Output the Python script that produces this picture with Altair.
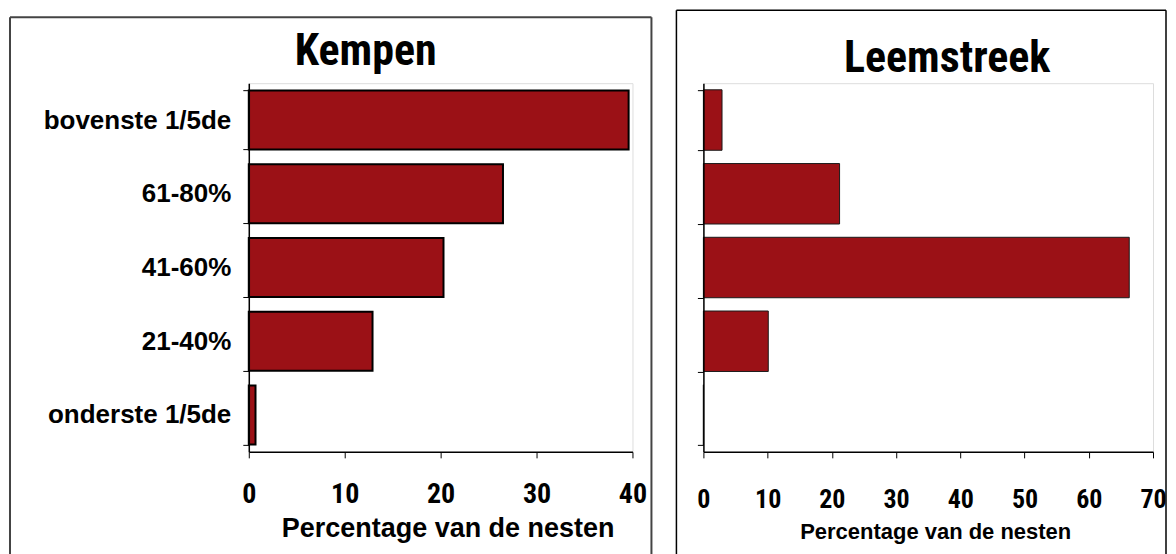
import altair as alt
import pandas as pd

categories = ["bovenste 1/5de", "61-80%", "41-60%", "21-40%", "onderste 1/5de"]
kempen = [39.6, 26.5, 20.3, 12.9, 0.7]
leemstreek = [2.9, 21.2, 66.3, 10.1, 0.0]
kempen_ticks = [0, 10, 20, 30, 40]
leem_ticks = [0, 10, 20, 30, 40, 50, 60, 70]
x_title = "Percentage van de nesten"
titles = ["Kempen", "Leemstreek"]

BAR = "#9b1116"
COND = "'Roboto Condensed', 'Liberation Sans', Arial, sans-serif"
SANS = "'Liberation Sans', Arial, sans-serif"

df_k = pd.DataFrame({"cat": categories, "val": kempen})
df_l = pd.DataFrame({"cat": categories, "val": leemstreek})
one = alt.Data(values=[{"a": 1}])


def frame(color, width, x0, x1, y0, y1):
    base = alt.Chart(one)
    left = base.mark_rule(color=color, strokeWidth=width, clip=False).encode(
        x=alt.value(x0), y=alt.value(y0), y2=alt.value(y1))
    right = base.mark_rule(color=color, strokeWidth=width, clip=False).encode(
        x=alt.value(x1), y=alt.value(y0), y2=alt.value(y1))
    top = base.mark_rule(color=color, strokeWidth=width, clip=False).encode(
        x=alt.value(x0), x2=alt.value(x1), y=alt.value(y0))
    return [left, right, top]


def panel_title(text, cx, baseline_y):
    return alt.Chart(one).mark_text(
        font=COND, fontSize=44, fontWeight="bold", color="black",
        align="center", baseline="alphabetic", clip=False,
    ).encode(x=alt.value(cx), y=alt.value(baseline_y), text=alt.value(text))


# ---------- left panel: Kempen ----------
LW, LH = 384, 369
k_bars = alt.Chart(df_k).mark_bar(color=BAR, stroke="black", strokeWidth=2).encode(
    y=alt.Y("cat:N", sort=categories,
            scale=alt.Scale(paddingInner=0.2, paddingOuter=0.1),
            axis=alt.Axis(title=None, tickBand="extent", tickSize=6, tickColor="black",
                          domainColor="black", domainWidth=1.5, labelFont=SANS,
                          labelFontSize=26, labelFontWeight="bold", labelColor="black",
                          labelPadding=12, labelLimit=0, zindex=1)),
    x=alt.X("val:Q", scale=alt.Scale(domain=[0, 40], nice=False),
            axis=alt.Axis(values=kempen_ticks, title=x_title, tickSize=6, tickColor="black",
                          domainColor="black", domainWidth=1.5, grid=False,
                          labelFont=COND, labelFontSize=28, labelFontWeight="bold",
                          labelColor="black", labelPadding=23, labelFlush=False,
                          titleFont=SANS, titleFontSize=27, titleFontWeight="bold",
                          titleColor="black", titlePadding=7, titleX=199, zindex=1)),
)
left = alt.layer(*frame("#444444", 2, -239, 403, -66, 478),
                 panel_title(titles[0], 117, -18), k_bars).properties(width=LW, height=LH)

# ---------- right panel: Leemstreek ----------
RW, RH = 450, 369
l_bars = alt.Chart(df_l).mark_bar(color=BAR, stroke="#1a1a1a", strokeWidth=1).encode(
    y=alt.Y("cat:N", sort=categories,
            scale=alt.Scale(paddingInner=0.18, paddingOuter=0.09),
            axis=alt.Axis(title=None, labels=False, tickBand="extent", tickSize=6,
                          tickColor="black", domainColor="black", domainWidth=1.5, zindex=1)),
    x=alt.X("val:Q", scale=alt.Scale(domain=[0, 70], nice=False),
            axis=alt.Axis(values=leem_ticks, title=x_title, tickSize=6, tickColor="black",
                          domainColor="black", domainWidth=1.5, grid=False,
                          labelFont=COND, labelFontSize=26, labelFontWeight="bold",
                          labelColor="black", labelPadding=29, labelFlush=False,
                          titleFont=SANS, titleFontSize=22, titleFontWeight="bold",
                          titleColor="black", titlePadding=9, titleX=232, zindex=1)),
)
right = alt.layer(*frame("black", 1.5, -27, 463, -73, 478),
                  panel_title(titles[1], 244, -11), l_bars).properties(width=RW, height=RH)

chart = alt.hconcat(left, right, spacing=71, bounds="flush").properties(
    padding=0
).configure_view(stroke="#8a8a8a", strokeWidth=1.5).configure(background="white")

chart.save("out.html", embed_options={"renderer": "svg", "actions": False})
